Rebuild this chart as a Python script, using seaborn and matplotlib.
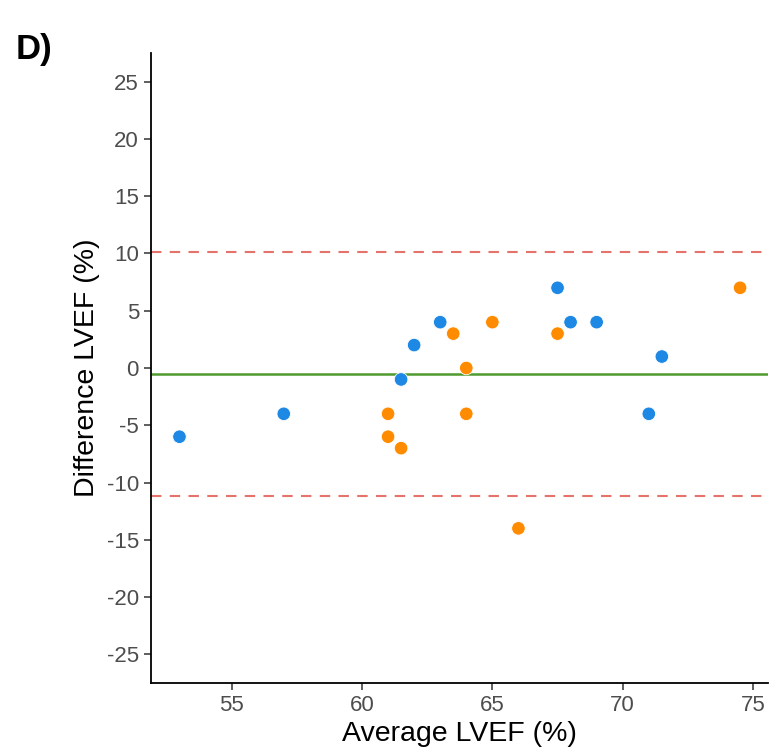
import numpy as np
import pandas as pd
import seaborn as sns
from matplotlib import pyplot as plt

# Bland-Altman data
blue_avg = [53, 57, 61.5, 62, 63, 67.5, 68, 69, 71.5, 71]
blue_diff = [-6, -4, -1, 2, 4, 7, 4, 4, 1, -4]
orange_avg = [63.5, 65, 64, 61, 64, 61, 61.5, 66, 67.5, 74.5]
orange_diff = [3, 4, 0, -4, -4, -6, -7, -14, 3, 7]
group_names = ['A', 'B']
group_colors = ['#1E88E5', '#FF8C00']
y_ticks = [-25, -20, -15, -10, -5, 0, 5, 10, 15, 20, 25]
x_ticks = [55, 60, 65, 70, 75]

df = pd.DataFrame({
    'avg': blue_avg + orange_avg,
    'diff': blue_diff + orange_diff,
    'group': [group_names[0]] * len(blue_avg) + [group_names[1]] * len(orange_avg),
})

mean_diff = df['diff'].mean()
sd_diff = df['diff'].std()
upper = mean_diff + 1.96 * sd_diff
lower = mean_diff - 1.96 * sd_diff

sns.set_style('white')
plt.rcParams['font.family'] = ['Liberation Sans', 'DejaVu Sans']
plt.rcParams['axes.unicode_minus'] = False

fig = plt.figure(figsize=(7.79, 7.55), dpi=100)
ax = fig.add_axes([0.1944, 0.0954, 0.7916, 0.8344])

ax.axhline(upper, color='#E5736B', linestyle=(0, (5, 4)), linewidth=1.5, zorder=1)
ax.axhline(lower, color='#E5736B', linestyle=(0, (5, 4)), linewidth=1.5, zorder=1)
ax.axhline(mean_diff, color='#4F9A2E', linewidth=1.8, zorder=1)

sns.scatterplot(data=df, x='avg', y='diff', hue='group', palette=group_colors,
                s=95, edgecolor='white', linewidth=0.6, legend=False, ax=ax, zorder=3)

xr = df['avg'].max() - df['avg'].min()
ax.set_xlim(df['avg'].min() - 0.05 * xr, df['avg'].max() + 0.05 * xr)
ax.set_ylim(-27.5, 27.5)
ax.set_xticks(x_ticks)
ax.set_yticks(y_ticks)

sns.despine(ax=ax)
for side in ['left', 'bottom']:
    ax.spines[side].set_color('black')
    ax.spines[side].set_linewidth(1.3)
ax.tick_params(axis='both', direction='out', length=5, width=1.1, color='#333333',
               labelsize=16, labelcolor='#4D4D4D', pad=4, left=True, bottom=True)

ax.set_xlabel('Average LVEF (%)', fontsize=20.5, color='black', labelpad=3)
ax.set_ylabel('Difference LVEF (%)', fontsize=20.5, color='black', labelpad=5)

fig.text(0.02, 0.935, 'D)', fontsize=25, fontweight='heavy', color='black', va='center')

plt.savefig('out.png', dpi=100)
